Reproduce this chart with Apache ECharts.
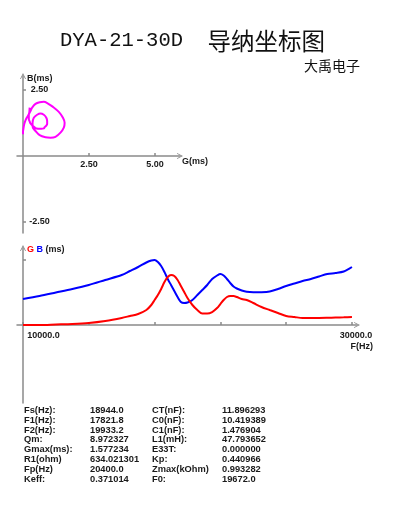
<!DOCTYPE html>
<html><head><meta charset="utf-8">
<script src="https://cdn.jsdelivr.net/npm/echarts@6/dist/echarts.min.js"></script>
<style>html,body{margin:0;padding:0;background:#fff}#c{width:395px;height:510px}</style>
</head><body><div id="c"></div>
<script>
// Frequency sweep (Hz)
const freq = [10000, 11000, 12000, 13000, 14000, 15000, 16000, 16500, 17000, 17500,
  17800, 18000, 18200, 18400, 18600, 18800, 19000, 19200, 19400, 19600,
  19800, 20000, 20300, 20600, 20900, 21200, 21500, 21800, 22000, 22200,
  22400, 22600, 22800, 23000, 23300, 23600, 24000, 24500, 25000, 25500,
  26000, 26500, 27000, 27500, 28000, 28500, 29000, 29500, 30000];
// Conductance G (ms)
const gValues = [0.000, 0.000, 0.016, 0.032, 0.063, 0.126, 0.221, 0.284, 0.347, 0.473,
  0.631, 0.789, 0.946, 1.136, 1.356, 1.514, 1.577, 1.546, 1.420, 1.230,
  1.041, 0.852, 0.631, 0.473, 0.363, 0.363, 0.410, 0.536, 0.662, 0.789,
  0.883, 0.915, 0.915, 0.883, 0.820, 0.789, 0.694, 0.568, 0.473, 0.379,
  0.284, 0.252, 0.221, 0.221, 0.221, 0.227, 0.237, 0.243, 0.252];
// Susceptance B (ms)
const bValues = [0.820, 0.915, 1.025, 1.136, 1.262, 1.420, 1.577, 1.703, 1.830, 1.972,
  2.035, 2.050, 1.987, 1.861, 1.672, 1.451, 1.262, 1.073, 0.883, 0.726,
  0.694, 0.710, 0.789, 0.946, 1.104, 1.262, 1.451, 1.562, 1.609, 1.562,
  1.451, 1.325, 1.215, 1.151, 1.088, 1.047, 1.032, 1.035, 1.057, 1.136,
  1.230, 1.309, 1.388, 1.451, 1.530, 1.609, 1.640, 1.688, 1.830];

const topXTicks = [2.5, 5.0];
const topYTicks = [-2.5, 2.5];
const freqTicks = [10000, 14000, 18000, 22000, 26000, 30000];
const freqLabels = [10000, 30000];

const statNames1 = ['Fs(Hz):', 'F1(Hz):', 'F2(Hz):', 'Qm:', 'Gmax(ms):', 'R1(ohm)', 'Fp(Hz)', 'Keff:'];
const statValues1 = ['18944.0', '17821.8', '19933.2', '8.972327', '1.577234', '634.021301', '20400.0', '0.371014'];
const statNames2 = ['CT(nF):', 'C0(nF):', 'C1(nF):', 'L1(mH):', 'E33T:', 'Kp:', 'Zmax(kOhm)', 'F0:'];
const statValues2 = ['11.896293', '10.419389', '1.476904', '47.793652', '0.000000', '0.440966', '0.993282', '19672.0'];

const AX = '#8a8a8a';
const FONT = '"Liberation Sans", Arial, sans-serif';
const TXT = '#1a1a1a';
const arrow = 'path://M0,10 L5,0 L10,10 L8.6,10 L5,3.2 L1.4,10 Z';
const axisLine = { onZero: false, lineStyle: { color: AX, width: 1.5 }, symbol: ['none', arrow], symbolSize: [7, 6] };
const lbl = { color: TXT, fontFamily: FONT, fontSize: 9, fontWeight: 'bold' };
const tick = (vals) => ({ show: true, inside: true, length: 3, customValues: vals, lineStyle: { color: AX, width: 1.5 } });

const bMax = Math.max(...bValues);
const circle = gValues.map((g, i) => [g, bValues[i]]);
const bSeries = freq.map((f, i) => [f, bValues[i]]);
const gSeries = freq.map((f, i) => [f, gValues[i]]);

const graphic = [];
const cols = [[statNames1, 24], [statValues1, 90], [statNames2, 152], [statValues2, 222]];
cols.forEach(([arr, x]) => {
  arr.forEach((t, i) => {
    graphic.push({ type: 'text', x: x, y: Math.round(410 + i * 9.8), silent: true,
      style: { text: t, fill: TXT, fontFamily: FONT, fontSize: 9.3, fontWeight: 'bold', verticalAlign: 'middle' } });
  });
});

const chart = echarts.init(document.getElementById('c'), null, { renderer: 'canvas' });
chart.setOption({
  animation: false,
  backgroundColor: '#ffffff',
  title: [
    { text: '{a|DYA-21-30D  }{b|导纳坐标图}', left: 55, top: 21,
      textStyle: { fontWeight: 'normal', rich: {
        a: { fontFamily: '"Liberation Mono", monospace', fontSize: 20.5, fontWeight: 'normal', color: '#111', lineHeight: 30 },
        b: { fontFamily: '"Noto Sans CJK SC", sans-serif', fontSize: 23.5, fontWeight: 'normal', color: '#111', lineHeight: 30 } } } },
    { text: '大禹电子', left: 299, top: 53,
      textStyle: { fontFamily: '"Noto Sans CJK SC", sans-serif', fontSize: 14, fontWeight: 'normal', color: '#111', lineHeight: 16 } }
  ],
  grid: [
    { left: 17, top: 76, width: 163, height: 157, outerBoundsMode: 'none' },
    { left: 17, top: 248, width: 340, height: 155, outerBoundsMode: 'none' }
  ],
  xAxis: [
    { type: 'value', gridIndex: 0, min: -0.227, max: 5.947, splitLine: { show: false }, offset: -77,
      axisLine: axisLine, axisTick: tick(topXTicks),
      axisLabel: Object.assign({ customValues: topXTicks, formatter: v => v.toFixed(2), margin: 4 }, lbl),
      name: 'G(ms)', nameLocation: 'end', nameGap: 2,
      nameTextStyle: Object.assign({ align: 'left', verticalAlign: 'top', padding: [1, 0, 0, 0] }, lbl) },
    { type: 'value', gridIndex: 1, min: 9635, max: 30307, splitLine: { show: false }, offset: -78,
      axisLine: axisLine, axisTick: tick(freqTicks),
      axisLabel: Object.assign({ customValues: freqLabels, margin: 6,
        formatter: v => (v === freqLabels[0] ? '{a|' : '{b|') + v.toFixed(1) + '}',
        rich: { a: Object.assign({ padding: [0, 0, 0, 41] }, lbl), b: Object.assign({ padding: [0, 0, 0, 8] }, lbl) } }, lbl),
      name: 'F(Hz)', nameLocation: 'end', nameGap: 16,
      nameTextStyle: Object.assign({ align: 'right', verticalAlign: 'top', padding: [17, 0, 0, 0] }, lbl) }
  ],
  yAxis: [
    { type: 'value', gridIndex: 0, min: -2.917, max: 3.03, splitLine: { show: false }, offset: -6,
      axisLine: axisLine, axisTick: tick(topYTicks),
      axisLabel: Object.assign({ customValues: topYTicks, formatter: v => v.toFixed(2), inside: true, align: 'center', margin: 16.5 }, lbl),
      name: 'B(ms)', nameLocation: 'end', nameGap: -3,
      nameTextStyle: Object.assign({ align: 'left', verticalAlign: 'middle', padding: [0, 0, 0, 4] }, lbl) },
    { type: 'value', gridIndex: 1, min: -2.46, max: 2.429, splitLine: { show: false }, offset: -6,
      axisLine: axisLine, axisTick: tick([bMax]),
      axisLabel: { show: false },
      name: '{r|G} {b|B} {k|(ms)}', nameLocation: 'end', nameGap: -2,
      nameTextStyle: Object.assign({ align: 'left', verticalAlign: 'middle', padding: [0, 0, 0, 4],
        rich: { r: Object.assign({}, lbl, { color: '#ff0000' }), b: Object.assign({}, lbl, { color: '#0000ff' }), k: Object.assign({}, lbl) } }, lbl) }
  ],
  series: [
    { type: 'line', xAxisIndex: 0, yAxisIndex: 0, data: circle, showSymbol: false, smooth: 0.35,
      lineStyle: { color: '#ff00ff', width: 2 }, itemStyle: { color: '#ff00ff' } },
    { type: 'line', xAxisIndex: 1, yAxisIndex: 1, data: bSeries, showSymbol: false, smooth: 0.3,
      lineStyle: { color: '#0000ff', width: 2 }, itemStyle: { color: '#0000ff' } },
    { type: 'line', xAxisIndex: 1, yAxisIndex: 1, data: gSeries, showSymbol: false, smooth: 0.3,
      lineStyle: { color: '#ff0000', width: 2 }, itemStyle: { color: '#ff0000' } }
  ],
  graphic: graphic
});
</script></body></html>
